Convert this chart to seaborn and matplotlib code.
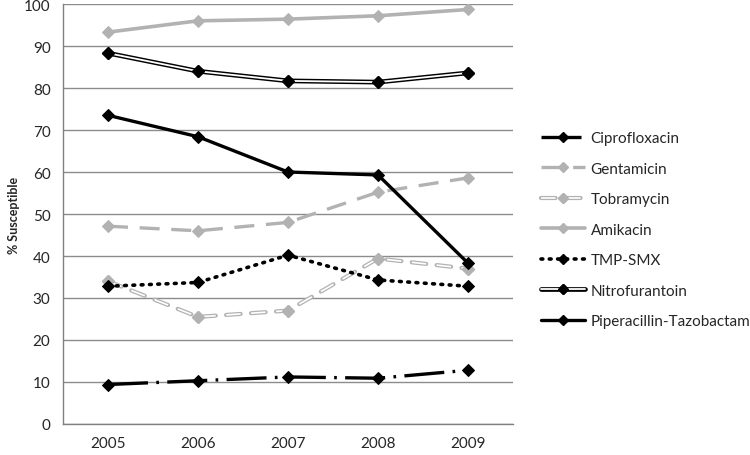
import matplotlib
matplotlib.use("Agg")
import matplotlib.pyplot as plt
from matplotlib.lines import Line2D
import seaborn as sns
import pandas as pd

# data
years = ["2005", "2006", "2007", "2008", "2009"]
ciprofloxacin = [9.4, 10.3, 11.2, 10.9, 12.8]
gentamicin = [47.1, 46.0, 48.0, 55.2, 58.6]
tobramycin = [34.0, 25.5, 27.0, 39.4, 37.0]
amikacin = [93.3, 96.0, 96.4, 97.2, 98.7]
tmp_smx = [32.8, 33.7, 40.2, 34.3, 32.8]
nitrofurantoin = [88.3, 84.0, 81.7, 81.4, 83.6]
pip_tazo = [73.5, 68.4, 60.0, 59.3, 38.3]

sns.set_theme(style="white")
plt.rcParams["font.family"] = ["Lato", "DejaVu Sans"]

fig = plt.figure(figsize=(7.5, 4.56), dpi=100)
ax = fig.add_axes([0.084, 0.068, 0.6, 0.921])

grey = "#b2b2b2"
x = list(range(len(years)))
ms = 6.5

# style for each series: outer line, optional inner (white) line for double lines
styles = {
    "Ciprofloxacin": dict(y=ciprofloxacin, color="black", lw=2.4, dashes=(12, 2.5, 0.8, 2.5), mc="black"),
    "Gentamicin": dict(y=gentamicin, color=grey, lw=2.4, dashes=(6, 3.5), mc=grey),
    "Tobramycin": dict(y=tobramycin, color=grey, lw=3.0, dashes=(3.5, 2.5), mc=grey, inner=1.2),
    "Amikacin": dict(y=amikacin, color=grey, lw=2.6, dashes=None, mc=grey),
    "TMP-SMX": dict(y=tmp_smx, color="black", lw=2.6, dashes=(0.5, 1.8), mc="black"),
    "Nitrofurantoin": dict(y=nitrofurantoin, color="black", lw=3.4, dashes=None, mc="black", inner=1.3),
    "Piperacillin-Tazobactam": dict(y=pip_tazo, color="black", lw=2.4, dashes=None, mc="black"),
}

handles = []
for name, s in styles.items():
    df = pd.DataFrame({"x": x, "y": s["y"]})
    kw = dict(color=s["color"], linewidth=s["lw"], marker="D", markersize=ms,
              markerfacecolor=s["mc"], markeredgecolor=s["mc"])
    if s["dashes"]:
        kw["dashes"] = s["dashes"]
        kw["dash_capstyle"] = "round" if name in ("TMP-SMX", "Tobramycin") else "butt"
    sns.lineplot(data=df, x="x", y="y", ax=ax, **kw)
    h_outer = Line2D([], [], color=s["color"], linewidth=s["lw"], linestyle="-",
                     marker="D", markersize=5.5, markerfacecolor=s["mc"], markeredgecolor=s["mc"])
    if s["dashes"]:
        h_outer.set_dashes(s["dashes"])
        h_outer.set_dash_capstyle(kw["dash_capstyle"])
    if "inner" in s:
        ikw = dict(color="white", linewidth=s["inner"])
        if s["dashes"]:
            ikw["dashes"] = tuple(d * s["lw"] / s["inner"] for d in s["dashes"])
        ax.plot(x, s["y"], **ikw)
        ax.plot(x, s["y"], linestyle="none", marker="D", markersize=ms,
                markerfacecolor=s["mc"], markeredgecolor=s["mc"])
        h_inner = Line2D([], [], color="white", linewidth=s["inner"])
        if "dashes" in ikw:
            h_inner.set_dashes(ikw["dashes"])
        h_mark = Line2D([], [], linestyle="none", marker="D", markersize=5.5,
                        markerfacecolor=s["mc"], markeredgecolor=s["mc"])
        handles.append((h_outer, h_inner, h_mark))
    else:
        handles.append(h_outer)

ax.set_xlim(-0.5, 4.5)
ax.set_ylim(0, 100)
ax.set_yticks(range(0, 101, 10))
ax.set_xticks(x)
ax.set_xticklabels(years)
ax.set_xticks([i - 0.5 for i in range(6)], minor=True)
ax.tick_params(axis="x", which="major", length=0, pad=9, labelsize=11)
ax.tick_params(axis="x", which="minor", length=5, width=1, color="#808080", direction="out")
ax.tick_params(axis="y", length=5, width=1, color="#808080", direction="out", labelsize=11, pad=4)
ax.yaxis.grid(True, color="#8c8c8c", linewidth=1)
ax.set_axisbelow(True)
ax.set_xlabel("")
ax.set_ylabel("% Susceptible", fontsize=9, fontweight="bold", labelpad=3)

for side in ["top", "right"]:
    ax.spines[side].set_visible(False)
for side in ["left", "bottom"]:
    ax.spines[side].set_color("#808080")
    ax.spines[side].set_linewidth(1)

fig.legend(handles, list(styles.keys()), loc="upper left", bbox_to_anchor=(0.703, 0.74),
           frameon=False, fontsize=11, handlelength=2.9, handletextpad=0.35, labelspacing=1.08)

fig.savefig("out.png", dpi=100)
